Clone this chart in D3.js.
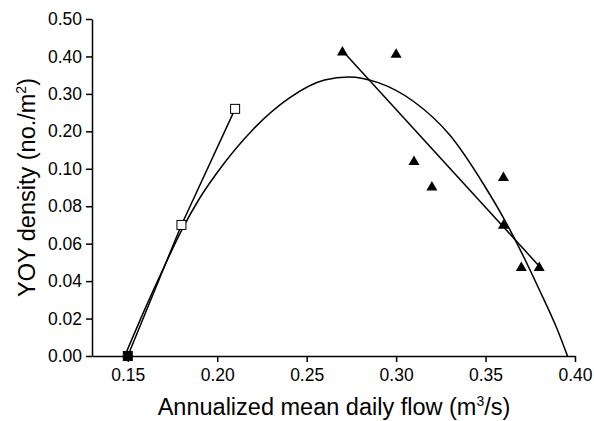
<!DOCTYPE html>
<html><head><meta charset="utf-8">
<script src="https://cdn.jsdelivr.net/npm/d3@7"></script>
<style>
html,body{margin:0;padding:0;background:#fff;}
svg{display:block;}
text{font-family:"Liberation Sans",Arial,Helvetica,sans-serif;fill:#000;}
</style></head>
<body>
<script>
// Data
const squareFlow = [0.15, 0.18, 0.21];
const squareDensity = [0.00, 0.07, 0.26];
const squareFilled = [true, false, false];

const triFlow = [0.27, 0.30, 0.31, 0.32, 0.36, 0.36, 0.37, 0.38];
const triDensity = [0.415, 0.409, 0.123, 0.091, 0.096, 0.0705, 0.048, 0.048];

const trendFlow = [0.27, 0.38];
const trendDensity = [0.415, 0.048];

const curveFlow = [0.1483, 0.16, 0.17, 0.18, 0.19, 0.20, 0.22, 0.24, 0.26, 0.2735, 0.29, 0.31, 0.33, 0.35, 0.36, 0.37, 0.38, 0.39, 0.3958];
const curveDensity = [0.000, 0.026, 0.047, 0.067, 0.084, 0.098, 0.205, 0.288, 0.337, 0.345, 0.330, 0.279, 0.190, 0.090, 0.0738, 0.0555, 0.0355, 0.0144, 0.000];

const xTicks = [0.15, 0.20, 0.25, 0.30, 0.35, 0.40];
const yTicks = [0.00, 0.02, 0.04, 0.06, 0.08, 0.10, 0.20, 0.30, 0.40, 0.50];

(function () {
const W = 594, H = 421;
const mLeft = 92, mRight = 575, mTop = 19, mBottom = 356;
const step = (mBottom - mTop) / 9;

const x = d3.scaleLinear().domain([0.13, 0.40]).range([mLeft, mRight]);
const y = d3.scaleLinear().domain([0, 0.1, 0.5]).range([mBottom, mBottom - 5 * step, mTop]);

const svg = d3.select("body").append("svg").attr("width", W).attr("height", H);

// Axes
const xAxis = d3.axisBottom(x).tickValues(xTicks).tickFormat(d3.format(".2f")).tickSize(6).tickSizeOuter(0).tickPadding(7);
const yAxis = d3.axisLeft(y).tickValues(yTicks).tickFormat(d3.format(".2f")).tickSize(6).tickSizeOuter(0).tickPadding(4);

const gx = svg.append("g").attr("transform", `translate(0,${mBottom})`).call(xAxis);
const gy = svg.append("g").attr("transform", `translate(${mLeft},0)`).call(yAxis);
[gx, gy].forEach(g => {
  g.selectAll("path.domain").attr("stroke", "#000").attr("stroke-width", 1.5);
  g.selectAll(".tick line").attr("stroke", "#000").attr("stroke-width", 1.5);
  g.selectAll(".tick text").attr("font-size", 17.5).attr("font-family", '"Liberation Sans",Arial,sans-serif').attr("fill", "#000");
});

// Titles
const xt = svg.append("text").attr("x", 334).attr("y", 415).attr("text-anchor", "middle").attr("font-size", 23.5);
xt.append("tspan").text("Annualized mean daily flow (m");
xt.append("tspan").attr("dy", -9).attr("font-size", 14).text("3");
xt.append("tspan").attr("dy", 9).text("/s)");

const yt = svg.append("text").attr("transform", `translate(35,${(mTop + mBottom) / 2}) rotate(-90)`).attr("text-anchor", "middle").attr("font-size", 23.5);
yt.append("tspan").text("YOY density (no./m");
yt.append("tspan").attr("dy", -9).attr("font-size", 14).text("2");
yt.append("tspan").attr("dy", 9).text(")");

// Fitted curve
const curvePts = curveFlow.map((f, i) => [f, curveDensity[i]]);
svg.append("path").datum(curvePts)
  .attr("d", d3.line().x(d => x(d[0])).y(d => y(d[1])).curve(d3.curveMonotoneX))
  .attr("fill", "none").attr("stroke", "#000").attr("stroke-width", 1.5);

// Square connecting line
const sqPts = squareFlow.map((f, i) => [f, squareDensity[i]]);
svg.append("path").datum(sqPts)
  .attr("d", d3.line().x(d => x(d[0])).y(d => y(d[1])))
  .attr("fill", "none").attr("stroke", "#000").attr("stroke-width", 1.5);

// Triangle trend line
const trPts = trendFlow.map((f, i) => [f, trendDensity[i]]);
svg.append("path").datum(trPts)
  .attr("d", d3.line().x(d => x(d[0])).y(d => y(d[1])))
  .attr("fill", "none").attr("stroke", "#000").attr("stroke-width", 1.5);

// Squares
const s = 9;
svg.selectAll("rect.sq").data(sqPts).enter().append("rect")
  .attr("x", d => x(d[0]) - s / 2).attr("y", d => y(d[1]) - s / 2)
  .attr("width", s).attr("height", s)
  .attr("fill", (d, i) => squareFilled[i] ? "#000" : "#fff")
  .attr("stroke", "#000").attr("stroke-width", 1);

// Triangles
const tw = 11, th = 9.5;
const triPts = triFlow.map((f, i) => [f, triDensity[i]]);
svg.selectAll("path.tri").data(triPts).enter().append("path")
  .attr("d", d => {
    const cx = x(d[0]), cy = y(d[1]);
    return `M${cx},${cy - th / 2}L${cx + tw / 2},${cy + th / 2}L${cx - tw / 2},${cy + th / 2}Z`;
  })
  .attr("fill", "#000");
})();
</script>
</body></html>
